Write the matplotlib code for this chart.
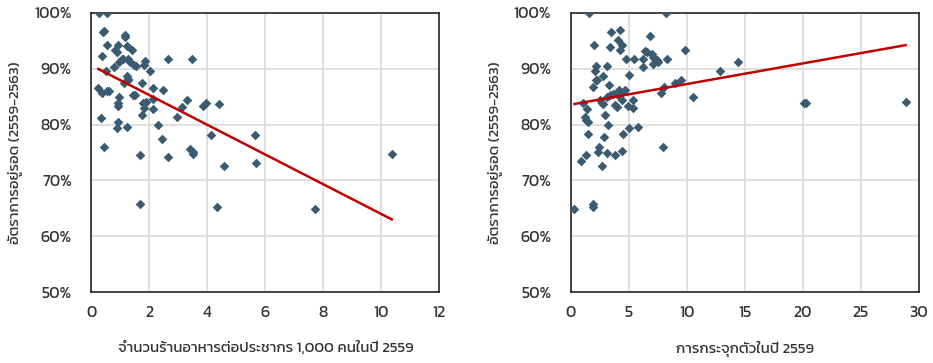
import matplotlib
matplotlib.use("Agg")
import matplotlib.pyplot as plt
import numpy as np
from matplotlib.ticker import FuncFormatter

# ข้อมูลรายจังหวัด (ประมาณจากภาพ)
shops_per_1000 = [0.28, 0.53, 0.41, 0.45, 0.36, 0.53, 0.51, 0.24, 0.36, 0.53,
                  0.60, 0.33, 0.43, 0.78, 0.87, 0.82, 0.92, 0.97, 1.04, 1.10,
                  1.15, 1.16, 1.22, 1.39, 1.33, 1.28, 1.48, 1.54, 1.22, 1.25,
                  1.28, 1.11, 0.97, 0.93, 0.91, 1.45, 1.51, 1.75, 1.85, 1.83,
                  2.02, 2.14, 2.46, 1.79, 1.89, 1.82, 1.74, 2.14, 2.11, 2.31,
                  2.44, 2.63, 3.46, 3.11, 2.94, 3.31, 2.63, 3.40, 3.49, 3.52,
                  3.84, 3.95, 4.41, 4.11, 4.59, 5.64, 5.67, 1.68, 1.69, 4.32,
                  7.72, 10.36, 0.89, 0.93, 1.22]
survival_left = [100.0, 100.0, 96.6, 96.8, 92.2, 94.3, 89.6, 86.6, 85.7, 86.0,
                 86.0, 81.1, 75.9, 90.2, 93.0, 93.4, 94.2, 91.2, 91.8, 91.7,
                 95.6, 96.0, 94.0, 93.4, 91.2, 91.8, 90.6, 90.5, 88.7, 88.1,
                 87.9, 87.4, 85.0, 83.8, 83.3, 85.3, 85.3, 87.4, 91.4, 90.6,
                 89.6, 86.6, 86.2, 83.9, 84.1, 82.9, 81.7, 84.5, 82.7, 79.9,
                 77.4, 91.7, 91.7, 83.2, 81.3, 84.3, 74.1, 75.7, 75.0, 74.8,
                 83.3, 83.8, 83.7, 78.1, 72.5, 78.2, 73.2, 74.6, 65.7, 65.2,
                 64.8, 74.7, 79.3, 80.4, 79.5]

concentration = [1.61, 8.21, 0.32, 1.95, 1.95, 0.89, 1.29, 2.67, 2.47, 2.38,
                 3.10, 3.82, 4.39, 1.46, 2.87, 4.48, 3.24, 5.05, 5.83, 7.92,
                 1.09, 1.38, 1.23, 1.32, 1.52, 2.96, 2.67, 2.81, 2.53, 1.89,
                 2.24, 2.76, 2.10, 2.15, 3.10, 2.04, 3.45, 4.25, 4.11, 3.39,
                 4.39, 4.25, 4.74, 5.46, 5.05, 3.33, 3.10, 3.39, 3.67, 3.87,
                 4.19, 4.48, 4.68, 4.05, 4.40, 3.82, 3.96, 4.91, 5.34, 5.40,
                 6.26, 6.26, 6.40, 6.83, 6.60, 6.98, 7.12, 7.27, 7.41, 7.55,
                 8.27, 9.85, 8.99, 9.47, 8.07, 7.75, 10.57, 12.86, 14.38, 20.10,
                 20.24, 28.85, 2.18, 7.12]
survival_right = [100.0, 100.0, 64.9, 65.8, 65.2, 73.4, 74.5, 72.5, 76.0, 75.0,
                  74.9, 74.6, 75.3, 78.3, 77.7, 78.3, 79.9, 79.3, 79.5, 75.9,
                  83.9, 82.8, 81.4, 80.8, 80.4, 81.7, 83.8, 83.6, 84.4, 86.7,
                  88.0, 88.6, 89.6, 90.5, 90.5, 94.3, 96.5, 96.9, 95.2, 93.9,
                  94.3, 93.3, 91.7, 91.8, 88.9, 87.1, 85.0, 85.3, 85.5, 85.7,
                  86.2, 85.9, 86.1, 85.3, 84.4, 83.5, 83.1, 83.3, 82.9, 84.4,
                  90.2, 91.7, 93.2, 95.8, 92.9, 92.7, 92.1, 91.7, 91.5, 91.2,
                  91.7, 93.3, 87.4, 88.0, 86.7, 85.6, 85.0, 89.6, 91.2, 83.8,
                  83.8, 84.1, 88.0, 90.9]

ylabel = "อัตราการอยู่รอด (2559-2563)"
xlabel_left = "จำนวนร้านอาหารต่อประชากร 1,000 คนในปี 2559"
xlabel_right = "การกระจุกตัวในปี 2559"

font = ["Kanit", "DejaVu Sans"]
text_color = "#333333"
dot_color = "#3b5b72"
trend_color = "#c00000"

fig = plt.figure(figsize=(9.33, 3.63), dpi=100)
ax1 = fig.add_axes([0.0979, 0.195, 0.373, 0.770])
ax2 = fig.add_axes([0.6117, 0.195, 0.3733, 0.770])

panels = [
    (ax1, shops_per_1000, survival_left, xlabel_left, 12, 2),
    (ax2, concentration, survival_right, xlabel_right, 30, 5),
]

for ax, xs, ys, xlab, xmax, xstep in panels:
    xs = np.array(xs)
    ys = np.array(ys)
    ax.scatter(xs, ys, marker="D", s=24, color=dot_color, linewidths=0, zorder=3)
    # เส้นแนวโน้มเชิงเส้น
    k, b = np.polyfit(xs, ys, 1)
    xx = np.array([xs.min(), xs.max()])
    ax.plot(xx, k * xx + b, color=trend_color, lw=1.8, zorder=4)

    ax.set_xlim(0, xmax)
    ax.set_ylim(50, 100)
    ax.set_xticks(np.arange(0, xmax + 0.1, xstep))
    ax.set_yticks(np.arange(50, 101, 10))
    ax.yaxis.set_major_formatter(FuncFormatter(lambda v, p: f"{v:.0f}%"))
    ax.grid(True, color="#d9d9d9", lw=1.2)
    ax.set_axisbelow(True)
    ax.tick_params(length=0, labelsize=11.5, colors=text_color)
    ax.tick_params(axis="x", pad=10)
    ax.tick_params(axis="y", pad=14)
    for lab in ax.get_xticklabels() + ax.get_yticklabels():
        lab.set_family(font)
        lab.set_weight("normal")
    for s in ax.spines.values():
        s.set_color("#262626")
        s.set_linewidth(1.2)
    ax.set_xlabel(xlab, family=font, weight="normal", fontsize=10.8, color=text_color, labelpad=15)
    ax.set_ylabel(ylabel, family=font, weight="normal", fontsize=10.8, color=text_color, labelpad=8)

fig.savefig("out.png", dpi=100)
